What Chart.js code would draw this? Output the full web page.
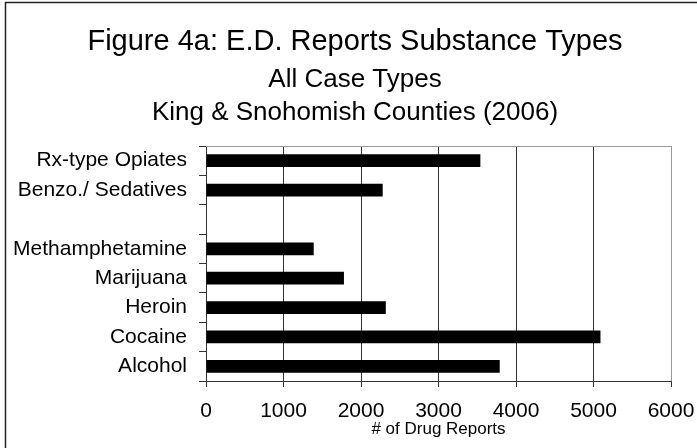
<!DOCTYPE html>
<html>
<head>
<meta charset="utf-8">
<script src="https://cdn.jsdelivr.net/npm/chart.js@4/dist/chart.umd.min.js"></script>
<style>
  html, body { margin: 0; padding: 0; background: #fff; }
  canvas { display: block; }
</style>
</head>
<body>
<canvas id="chart" width="697" height="448"></canvas>
<script>
// Substance categories (blank slot separates the prescription group)
const categories = [
  'Rx-type Opiates',
  'Benzo./ Sedatives',
  '',
  'Methamphetamine',
  'Marijuana',
  'Heroin',
  'Cocaine',
  'Alcohol'
];

// Number of E.D. drug reports per substance
const reports = [3540, 2280, null, 1390, 1780, 2320, 5090, 3790];

// Horizontal axis ticks
const xTicks = [0, 1000, 2000, 3000, 4000, 5000, 6000];

const titleLines = [
  'Figure 4a: E.D. Reports Substance Types',
  'All Case Types',
  'King & Snohomish Counties (2006)'
];
const xAxisTitle = '# of Drug Reports';

const FONT = '"Liberation Sans", Arial, Helvetica, sans-serif';
Chart.defaults.font.family = FONT;
Chart.defaults.color = '#000';

// Frame, heading lines and plot-area outline
const decorations = {
  id: 'decorations',
  beforeDraw(chart) {
    const ctx = chart.ctx;
    ctx.save();
    ctx.fillStyle = '#fff';
    ctx.fillRect(0, 0, chart.width, chart.height);
    ctx.strokeStyle = '#222';
    ctx.lineWidth = 1.5;
    ctx.strokeRect(5.5, 2.5, chart.width + 20, chart.height + 20);
    ctx.restore();
  },
  afterDraw(chart) {
    const ctx = chart.ctx;
    const a = chart.chartArea;
    ctx.save();
    ctx.fillStyle = '#000';
    ctx.textAlign = 'center';
    ctx.textBaseline = 'alphabetic';
    const cx = 355;
    ctx.font = '29px ' + FONT;
    ctx.fillText(titleLines[0], cx, 50);
    ctx.font = '26px ' + FONT;
    ctx.fillText(titleLines[1], cx, 87);
    ctx.fillText(titleLines[2], cx, 120);
    // top edge of plot area
    ctx.strokeStyle = '#999';
    ctx.lineWidth = 1;
    ctx.beginPath();
    ctx.moveTo(a.left, Math.round(a.top) + 0.5);
    ctx.lineTo(a.right + 0.5, Math.round(a.top) + 0.5);
    ctx.stroke();
    ctx.restore();
  }
};

new Chart(document.getElementById('chart'), {
  type: 'bar',
  data: {
    labels: categories,
    datasets: [{
      data: reports,
      backgroundColor: '#000',
      borderWidth: 0,
      barPercentage: 0.43,
      categoryPercentage: 1.0
    }]
  },
  options: {
    indexAxis: 'y',
    responsive: false,
    animation: false,
    layout: { padding: { top: 146, right: 26, bottom: 0, left: 0 } },
    plugins: {
      legend: { display: false },
      tooltip: { enabled: false },
      title: { display: false }
    },
    scales: {
      x: {
        type: 'linear',
        min: xTicks[0],
        max: xTicks[xTicks.length - 1],
        afterBuildTicks(scale) {
          scale.ticks = xTicks.map(v => ({ value: v }));
        },
        afterFit(scale) {
          scale.height = 67;
          scale.paddingLeft = 0;
          scale.paddingRight = 0;
        },
        grid: {
          color: ctx => (ctx.tick && ctx.tick.value === 6000) ? '#999' : '#333',
          tickColor: '#333',
          lineWidth: 1,
          tickLength: 6,
          drawTicks: true
        },
        border: { display: true, color: '#333', width: 1 },
        ticks: {
          font: { size: 21 },
          color: '#000',
          padding: 12,
          maxRotation: 0,
          callback: v => String(v)
        },
        title: {
          display: true,
          text: xAxisTitle,
          font: { size: 17 },
          color: '#000',
          padding: { top: 0, bottom: 8 }
        }
      },
      y: {
        type: 'category',
        afterFit(scale) {
          scale.width = 206;
          scale.paddingTop = 0;
          scale.paddingBottom = 0;
        },
        grid: {
          offset: true,
          drawOnChartArea: false,
          drawTicks: true,
          tickLength: 7,
          color: '#333',
          lineWidth: 1
        },
        border: { display: true, color: '#333', width: 1 },
        ticks: {
          font: { size: 21 },
          color: '#000',
          padding: 12,
          autoSkip: false
        }
      }
    }
  },
  plugins: [decorations]
});
</script>
</body>
</html>
